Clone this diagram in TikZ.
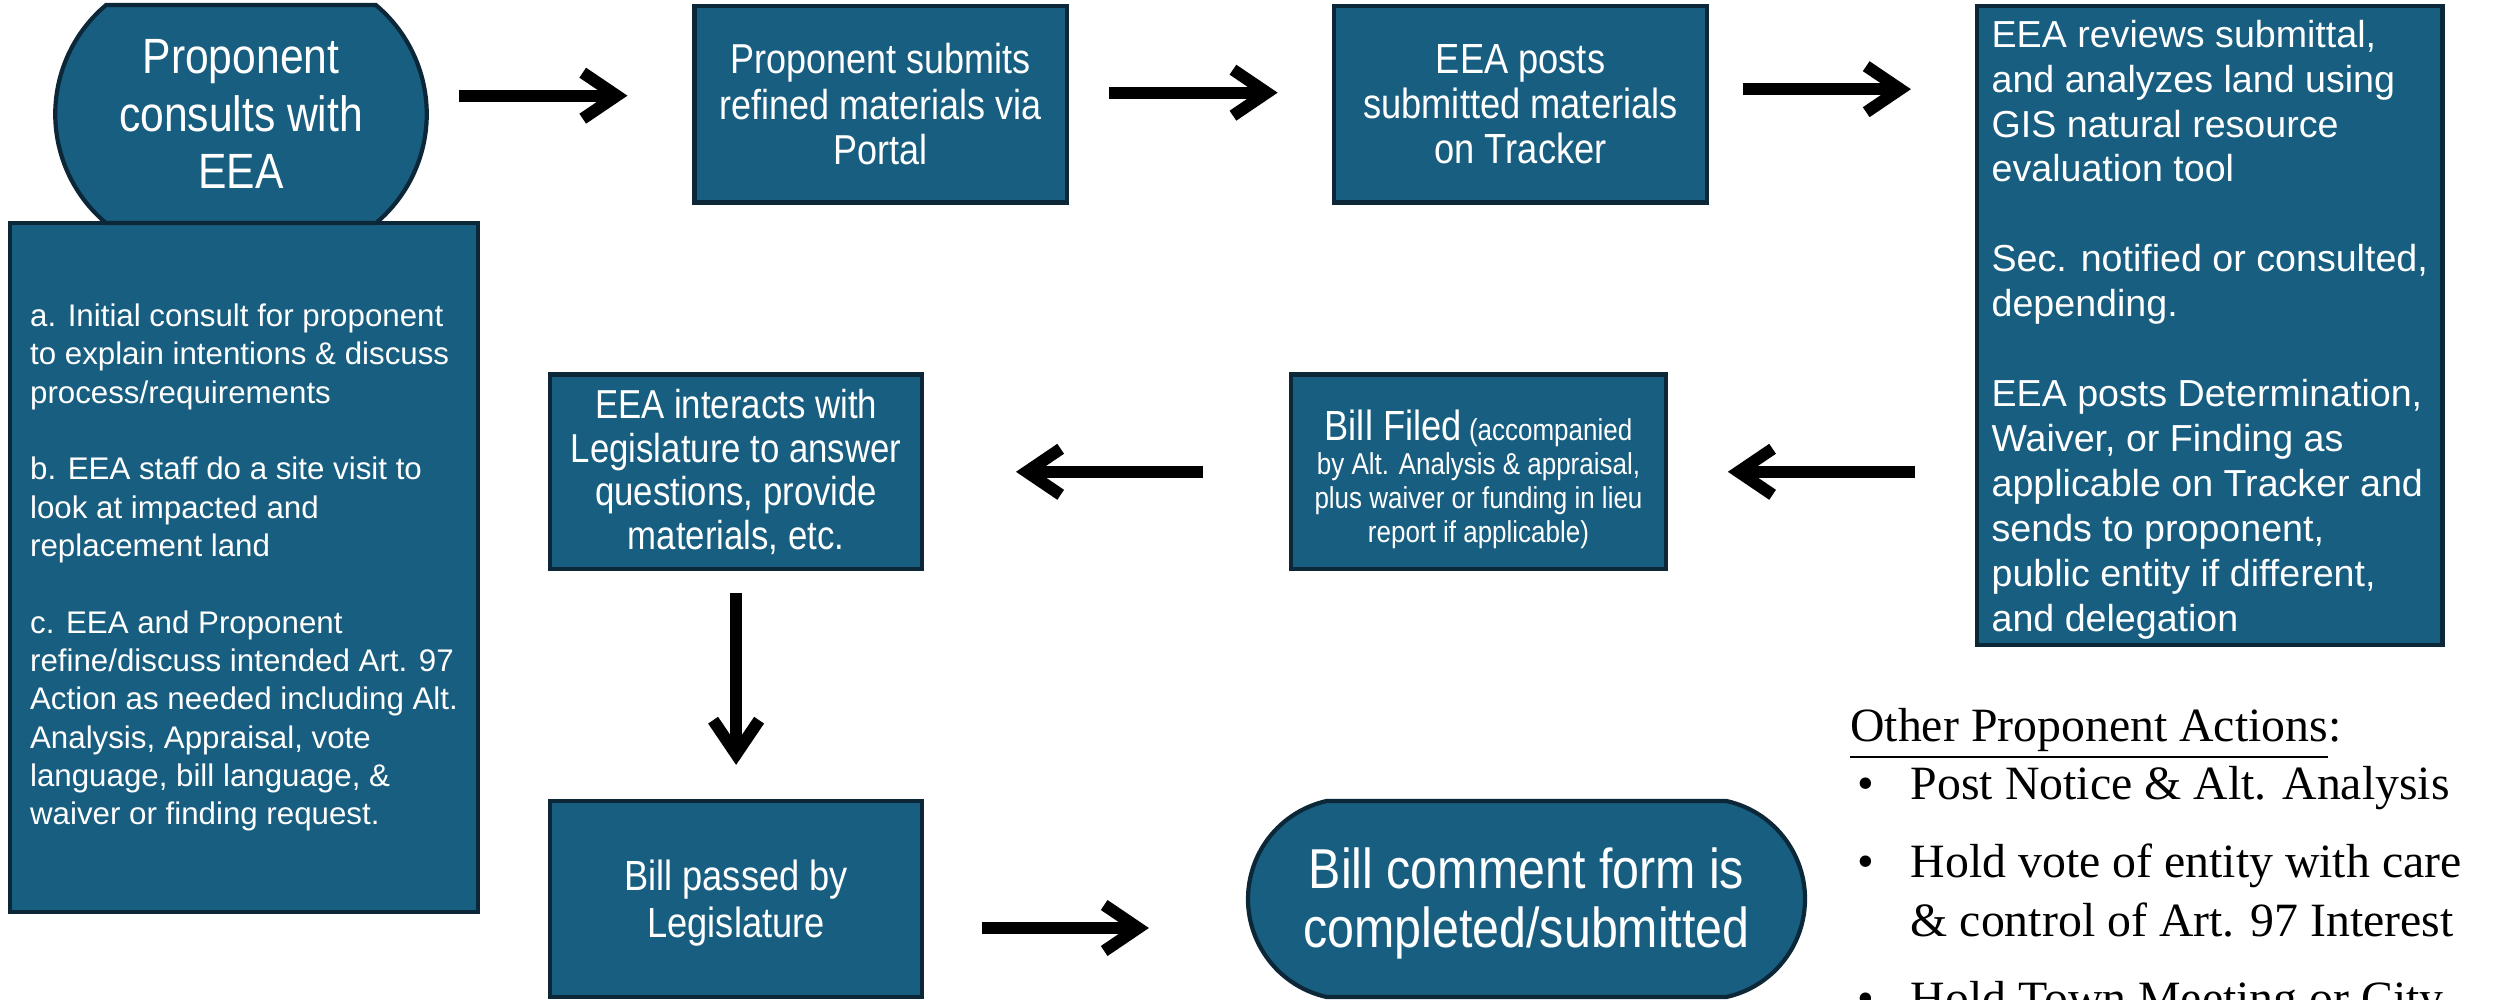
\documentclass[tikz,border=0pt]{standalone}
\usepackage{fontspec}
\setmainfont{Liberation Serif}
\newfontfamily\narrowsf[FakeStretch=0.86]{Liberation Sans}
\newfontfamily\plainsf{Liberation Sans}
\usetikzlibrary{arrows.meta,shapes.misc}
\definecolor{boxfill}{RGB}{24,94,128}
\definecolor{boxline}{RGB}{12,40,56}

\begin{document}
\begin{tikzpicture}[
    box/.style={draw=boxline, fill=boxfill, line width=1.2pt, text=white,
                align=center, inner sep=0pt},
    oval/.style={box, rounded rectangle, rounded rectangle arc length=100},
    notes/.style={box, align=left},
    flow/.style={line width=0.12cm, -{Straight Barb[length=0.34cm,width=0.46cm]}},
    other/.style={anchor=base west, inner sep=0pt, font=\fontsize{13.6}{16}\selectfont}]

\useasboundingbox (0,0) rectangle (25.01,-10);

% first consult and its notes
\node[notes, minimum width=4.68cm, minimum height=6.89cm,
      font=\plainsf\fontsize{8.9}{10.9}\selectfont] (notes) at (2.44,-5.676)
  {a. Initial consult for proponent\\to explain intentions \& discuss\\process/requirements\\[10.9pt]
   b. EEA staff do a site visit to\\look at impacted and\\replacement land\\[10.9pt]
   c. EEA and Proponent\\refine/discuss intended Art. 97\\Action as needed including Alt.\\
   Analysis, Appraisal, vote\\language, bill language, \&\\waiver or finding request.};
\node[oval, minimum width=3.715cm, minimum height=2.18cm,
      font=\narrowsf\fontsize{14.1}{16.3}\selectfont] (consult) at (2.41,-1.141)
  {Proponent\\consults with\\EEA};

% top row
\node[box, minimum width=3.725cm, minimum height=1.966cm,
      font=\narrowsf\fontsize{11.9}{12.9}\selectfont] (portal) at (8.808,-1.042)
  {Proponent submits\\refined materials via\\Portal};
\node[box, minimum width=3.735cm, minimum height=1.966cm,
      font=\narrowsf\fontsize{12}{12.9}\selectfont] (tracker) at (15.205,-1.042)
  {EEA posts\\submitted materials\\on Tracker};
\node[notes, minimum width=4.654cm, minimum height=6.39cm,
      font=\plainsf\fontsize{10.7}{12.78}\selectfont] (review) at (22.097,-3.255)
  {\rule{0pt}{10pt}EEA reviews submittal,\\and analyzes land using\\GIS natural resource\\evaluation tool\\[12.78pt]
   Sec. notified or consulted,\\depending.\\[12.78pt]
   EEA posts Determination,\\Waiver, or Finding as\\applicable on Tracker and\\
   sends to proponent,\\public entity if different,\\and delegation};

% middle row
\node[box, minimum width=3.745cm, minimum height=1.946cm,
      font=\narrowsf\fontsize{8.6}{9.7}\selectfont] (filed) at (14.785,-4.718)
  {\rule{0pt}{13pt}{\fontsize{12}{13}\selectfont Bill Filed} (accompanied\\by Alt. Analysis \& appraisal,\\
   plus waiver or funding in lieu\\report if applicable)};
\node[box, minimum width=3.715cm, minimum height=1.946cm,
      font=\narrowsf\fontsize{11.5}{12.4}\selectfont] (interact) at (7.361,-4.718)
  {EEA interacts with\\Legislature to answer\\questions, provide\\materials, etc.};

% bottom row
\node[box, minimum width=3.715cm, minimum height=1.96cm,
      font=\narrowsf\fontsize{12}{13.2}\selectfont] (passed) at (7.361,-8.99)
  {\rule{0pt}{11pt}Bill passed by\\Legislature};
\node[oval, rounded rectangle arc length=155, minimum width=5.57cm, minimum height=1.96cm,
      font=\narrowsf\fontsize{16}{16.9}\selectfont] (comment) at (15.265,-8.99)
  {\rule{0pt}{14pt}Bill comment form is\\completed/submitted};

% arrows
\draw[flow] ([shift={(3mm,0.85mm)}]consult.east |- portal.west) -- ([shift={(-6.5mm,0.85mm)}]portal.west);
\draw[flow] ([shift={(4mm,1.15mm)}]portal.east) -- ([shift={(-5.4mm,1.15mm)}]tracker.west);
\draw[flow] ([shift={(3.4mm,1.5mm)}]tracker.east) -- ([shift={(-6.4mm,1.5mm)}]tracker.east -| review.west);
\draw[flow] ([xshift=-6mm]review.west |- filed.east) -- ([xshift=6mm]filed.east);
\draw[flow] ([xshift=-8.6mm]filed.west) -- ([xshift=9.2mm]interact.east);
\draw[flow] ([yshift=-2.2mm]interact.south) -- ([yshift=3.4mm]passed.north);
\draw[flow] ([shift={(5.8mm,-2.9mm)}]passed.east) -- ([shift={(-9.7mm,-2.9mm)}]comment.west);

% other proponent actions
\node[other] (head) at (18.495,-7.42) {\underline{Other Proponent Actions}:};
\node[other] (dot1) at (18.57,-7.99) {\textbullet};
\node[other] (act1) at (19.10,-7.99) {Post Notice \& Alt. Analysis};
\node[other] (dot2) at (18.57,-8.77) {\textbullet};
\node[other] (act2) at (19.10,-8.77) {Hold vote of entity with care};
\node[other] (act2b) at (19.10,-9.36) {\& control of Art. 97 Interest};
\node[other] (dot3) at (18.57,-10.14) {\textbullet};
\node[other] (act3) at (19.10,-10.14) {Hold Town Meeting or City};

\end{tikzpicture}
\end{document}
